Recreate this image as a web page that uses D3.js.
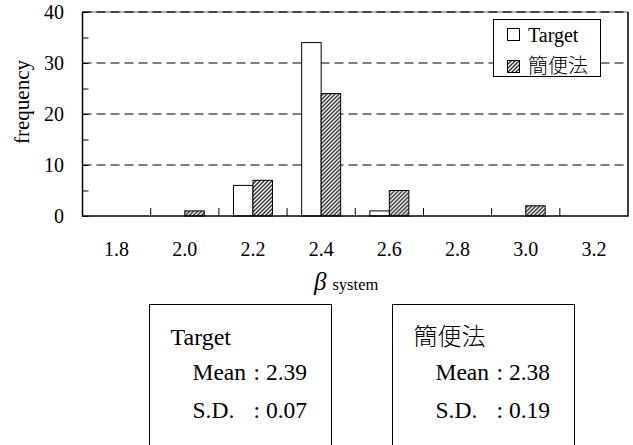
<!DOCTYPE html>
<html>
<head>
<meta charset="utf-8">
<script src="https://cdn.jsdelivr.net/npm/d3@7"></script>
<style>
  body { margin: 0; background: #fff; }
  svg { display: block; }
</style>
</head>
<body>
<svg id="chart" width="633" height="445"></svg>
<script>
// histogram of beta_system
var categories = ['1.8', '2.0', '2.2', '2.4', '2.6', '2.8', '3.0', '3.2'];
var targetCounts = [0, 0, 6, 34, 1, 0, 0, 0];
var simpleCounts = [0, 1, 7, 24, 5, 0, 2, 0];
var seriesNames = ['Target', '簡便法'];
var yTicks = [0, 10, 20, 30, 40];
var gridValues = [10, 20, 30];
var statNames = ['Target', '簡便法'];
var statMeans = ['2.39', '2.38'];
var statSDs = ['0.07', '0.19'];

var SERIF = '"Liberation Serif", "DejaVu Serif", serif';
var CJK = '"Noto Sans CJK JP", "Noto Sans CJK SC", sans-serif';

var plotLeft = 82.5, plotRight = 628, plotTop = 12, plotBottom = 216;

var svg = d3.select('#chart');

var defs = svg.append('defs');
var pat = defs.append('pattern')
    .attr('id', 'hatch')
    .attr('patternUnits', 'userSpaceOnUse')
    .attr('width', 4)
    .attr('height', 4);
pat.append('rect').attr('width', 4).attr('height', 4).attr('fill', '#fff');
pat.append('path')
    .attr('d', 'M-1,1 l2,-2 M0,4 l4,-4 M3,5 l2,-2')
    .attr('stroke', '#2a2a2a')
    .attr('stroke-width', 1.4);

var x = d3.scaleBand().domain(categories).range([plotLeft, plotRight]).padding(0);
var y = d3.scaleLinear().domain([0, 40]).range([plotBottom, plotTop]);
var barW = 19.5;
var xSub = d3.scaleBand().domain(seriesNames).range([-barW, barW]);

// grid lines
svg.selectAll('.grid')
    .data(gridValues)
    .enter()
    .append('line')
    .attr('x1', plotLeft).attr('x2', plotRight)
    .attr('y1', d => y(d)).attr('y2', d => y(d))
    .attr('stroke', '#000')
    .attr('stroke-width', 1)
    .attr('stroke-dasharray', '9,5');

// top border: gray line with dashes on it
svg.append('line')
    .attr('x1', plotLeft).attr('x2', plotRight)
    .attr('y1', y(40)).attr('y2', y(40))
    .attr('stroke', '#999').attr('stroke-width', 1.5);
svg.append('line')
    .attr('x1', plotLeft).attr('x2', plotRight)
    .attr('y1', y(40)).attr('y2', y(40))
    .attr('stroke', '#222').attr('stroke-width', 1.5)
    .attr('stroke-dasharray', '9,5');

// bars
var rows = categories.map(function (c, i) {
    return { cat: c, values: [targetCounts[i], simpleCounts[i]] };
});
var groups = svg.selectAll('.grp')
    .data(rows)
    .enter()
    .append('g')
    .attr('transform', d => 'translate(' + (x(d.cat) + x.bandwidth() / 2) + ',0)');
groups.selectAll('rect')
    .data(d => d.values.map((v, j) => ({ name: seriesNames[j], v: v })).filter(e => e.v > 0))
    .enter()
    .append('rect')
    .attr('x', d => xSub(d.name))
    .attr('y', d => y(d.v))
    .attr('width', xSub.bandwidth())
    .attr('height', d => y(0) - y(d.v))
    .attr('fill', d => d.name === seriesNames[0] ? '#fff' : 'url(#hatch)')
    .attr('stroke', '#000')
    .attr('stroke-width', 1);

// frame left, bottom, right
svg.append('path')
    .attr('d', 'M' + plotLeft + ',' + plotTop + 'V' + plotBottom + 'H' + plotRight + 'V' + plotTop)
    .attr('fill', 'none')
    .attr('stroke', '#000')
    .attr('stroke-width', 1.5);

// y ticks inside every 5
var yAxis = d3.axisLeft(y).tickValues(d3.range(0, 41, 5)).tickSize(-6).tickFormat('');
var gy = svg.append('g').attr('transform', 'translate(' + plotLeft + ',0)').call(yAxis);
gy.select('.domain').remove();
gy.selectAll('line').attr('stroke', '#000');

svg.selectAll('.ylab')
    .data(yTicks)
    .enter()
    .append('text')
    .attr('x', 64)
    .attr('y', d => y(d) + 7)
    .attr('text-anchor', 'end')
    .style('font-family', SERIF)
    .style('font-size', '20px')
    .text(d => d);

// x ticks on band boundaries
svg.selectAll('.xtick')
    .data(categories.slice(1))
    .enter()
    .append('line')
    .attr('x1', d => x(d)).attr('x2', d => x(d))
    .attr('y1', plotBottom).attr('y2', plotBottom - 8)
    .attr('stroke', '#000');

svg.selectAll('.xlab')
    .data(categories)
    .enter()
    .append('text')
    .attr('x', d => x(d) + x.bandwidth() / 2)
    .attr('y', 256)
    .attr('text-anchor', 'middle')
    .style('font-family', SERIF)
    .style('font-size', '20px')
    .text(d => d);

// axis titles
svg.append('text')
    .attr('transform', 'translate(29,' + ((plotTop + plotBottom) / 2 - 12) + ') rotate(-90)')
    .attr('text-anchor', 'middle')
    .style('font-family', SERIF)
    .style('font-size', '21px')
    .text('frequency');

var xt = svg.append('text').attr('x', 314).attr('y', 290).style('font-family', SERIF);
xt.append('tspan').style('font-size', '25px').style('font-style', 'italic').text('β');
xt.append('tspan').attr('dx', 6).style('font-size', '16.5px').text('system');

// legend
var lg = svg.append('g');
lg.append('rect')
    .attr('x', 493.5).attr('y', 19.5).attr('width', 107).attr('height', 57)
    .attr('fill', '#fff').attr('stroke', '#000').attr('stroke-width', 1);
seriesNames.forEach(function (name, i) {
    lg.append('rect')
        .attr('x', 507.5).attr('y', 28.5 + i * 32).attr('width', 12).attr('height', 12)
        .attr('fill', i === 0 ? '#fff' : 'url(#hatch)')
        .attr('stroke', '#000').attr('stroke-width', 1);
    lg.append('text')
        .attr('x', 528)
        .attr('y', 41.5 + i * 31)
        .style('font-family', i === 0 ? SERIF : CJK)
        .style('font-weight', i === 0 ? 400 : 300)
        .style('font-size', '20px')
        .text(name);
});

// stats boxes
var boxX = [149.5, 392.5];
statNames.forEach(function (name, i) {
    var bx = boxX[i];
    svg.append('rect')
        .attr('x', bx).attr('y', 304.5).attr('width', 182).attr('height', 200)
        .attr('fill', 'none').attr('stroke', '#000').attr('stroke-width', 1);
    svg.append('text')
        .attr('x', bx + 21)
        .attr('y', 345)
        .style('font-family', i === 0 ? SERIF : CJK)
        .style('font-weight', i === 0 ? 400 : 300)
        .style('font-size', '24px')
        .text(name);
    var rowsT = [['Mean', statMeans[i], 380], ['S.D.', statSDs[i], 418]];
    rowsT.forEach(function (r) {
        svg.append('text')
            .attr('x', bx + 43)
            .attr('y', r[2])
            .style('font-family', SERIF)
            .style('font-size', '23.5px')
            .text(r[0]);
        svg.append('text')
            .attr('x', bx + 104)
            .attr('y', r[2])
            .style('font-family', SERIF)
            .style('font-size', '23.5px')
            .style('white-space', 'pre')
            .text(': ' + r[1]);
    });
});
</script>
</body>
</html>
